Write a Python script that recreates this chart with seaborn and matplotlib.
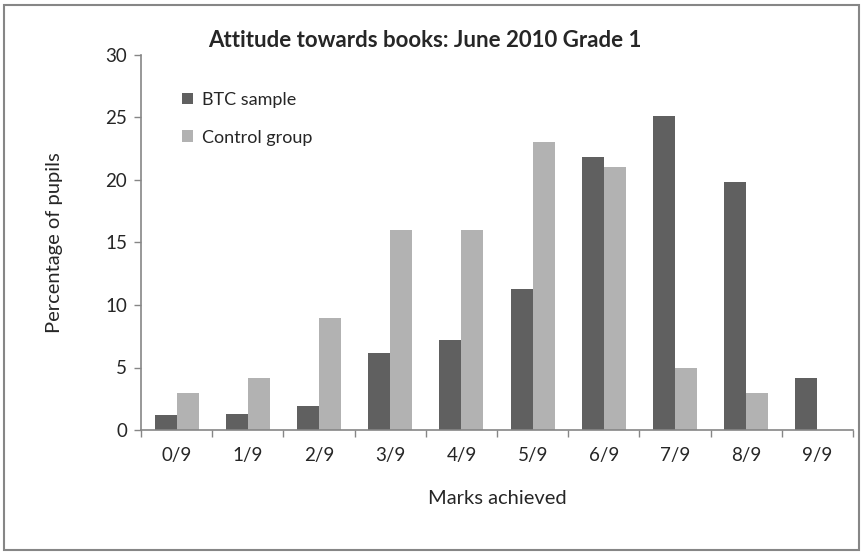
import numpy as np
import pandas as pd
import matplotlib
matplotlib.use("Agg")
import matplotlib.pyplot as plt
from matplotlib.patches import Rectangle
from matplotlib.ticker import FixedLocator
import seaborn as sns

# Share of pupils (%) at each mark level
marks = ["0/9", "1/9", "2/9", "3/9", "4/9", "5/9", "6/9", "7/9", "8/9", "9/9"]
btc_sample = [1.2, 1.3, 1.9, 6.2, 7.2, 11.3, 21.8, 25.1, 19.8, 4.2]
control_group = [3.0, 4.2, 9.0, 16.0, 16.0, 23.0, 21.0, 5.0, 3.0, 0.0]
groups = ["BTC sample", "Control group"]

df = pd.DataFrame({
    "Marks achieved": marks * 2,
    "Percentage of pupils": btc_sample + control_group,
    "group": [groups[0]] * len(marks) + [groups[1]] * len(marks),
})

sns.set_style("white")
plt.rcParams["font.family"] = ["Lato", "DejaVu Sans"]

axis_grey = "#868686"
fig = plt.figure(figsize=(8.65, 5.56), dpi=100)
ax = fig.add_axes([141 / 865, 1 - 430 / 556, (853 - 141) / 865, (430 - 55) / 556])

sns.barplot(data=df, x="Marks achieved", y="Percentage of pupils", hue="group",
            palette=["#606060", "#b2b2b2"], saturation=1, width=0.62, gap=0,
            linewidth=0, ax=ax)

ax.set_ylim(0, 30)
ax.set_xlim(-0.5, len(marks) - 0.5)
ax.set_yticks(np.arange(0, 31, 5))
ax.tick_params(axis="y", which="major", direction="out", length=5, width=1,
               color=axis_grey, labelsize=13.5, pad=5, left=True)
ax.tick_params(axis="x", which="major", length=0, labelsize=13.5, pad=12)
ax.xaxis.set_minor_locator(FixedLocator(np.arange(-0.5, len(marks), 1.0)))
ax.tick_params(axis="x", which="minor", direction="out", length=5, width=1,
               color=axis_grey, bottom=True)

for side in ["top", "right"]:
    ax.spines[side].set_visible(False)
for side in ["left", "bottom"]:
    ax.spines[side].set_color(axis_grey)
    ax.spines[side].set_linewidth(1.2)

ax.set_xlabel("Marks achieved", fontsize=14.5, labelpad=19)
ax.set_ylabel("Percentage of pupils", fontsize=14.5, labelpad=30)
ax.set_title("Attitude towards books: June 2010 Grade 1", fontsize=16,
             fontweight="bold", pad=6, x=0.398)

leg = ax.legend(loc="upper left", bbox_to_anchor=(0.035, 0.945), frameon=False,
                fontsize=13, handlelength=0.6, handleheight=0.6,
                handletextpad=0.5, labelspacing=1.2)

# Outer chart border
fig.patches.append(Rectangle((4 / 865, 6 / 556), 855 / 865, 545 / 556,
                             transform=fig.transFigure, fill=False,
                             edgecolor=axis_grey, linewidth=1.5))

fig.savefig("out.png", dpi=100)
